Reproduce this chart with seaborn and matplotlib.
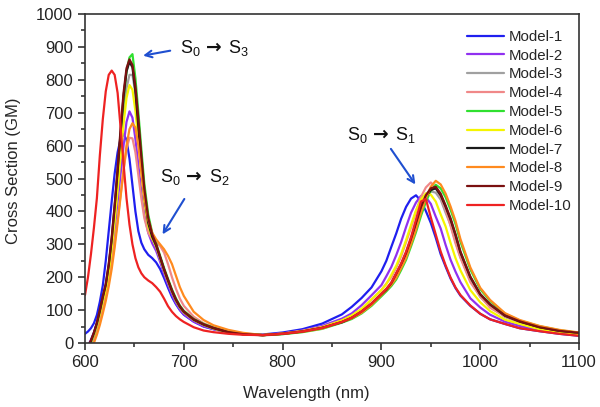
import pandas as pd
import seaborn as sns
from matplotlib import pyplot as plt
from matplotlib.ticker import MultipleLocator

# Wavelength grid (nm) shared by all models
wavelength = [600, 603, 606, 609, 612, 615, 618, 621, 624, 627, 630, 633, 636, 639, 642, 645, 648, 651, 654, 657, 660,
              664, 668, 672, 676, 680, 684, 688, 692, 696, 700, 710, 720, 730, 745, 760,
              780, 800, 820, 840, 860, 870, 880, 890,
              900, 905, 910, 915, 920, 925, 930, 935, 940, 945, 950, 955, 960, 965, 970, 975, 980,
              990, 1000, 1010, 1025, 1040, 1060, 1080, 1100]

# Cross section values (GM)
model_1 = [28, 35, 45, 60, 85, 125, 175, 250, 340, 430, 515, 580, 620, 635, 618, 560, 480, 400, 340, 305, 285,
           268, 258, 245, 225, 198, 168, 140, 118, 100, 86, 65, 50, 42, 34, 28,
           26, 32, 42, 59, 87, 110, 137, 169,
           218, 250, 292, 333, 378, 414, 439, 449, 432, 401, 365, 320, 270, 232, 196, 167, 144,
           113, 89, 72, 58, 45, 36, 28, 22]
model_2 = [-25, -8, 10, 32, 58, 90, 125, 160, 208, 270, 345, 430, 515, 600, 672, 704, 685, 620, 540, 460, 392,
           335, 303, 280, 247, 210, 177, 147, 121, 101, 87, 65, 51, 42, 32, 27,
           24, 29, 38, 52, 74, 90, 115, 145,
           176, 203, 231, 267, 307, 353, 396, 427, 447, 443, 423, 384, 348, 298, 253, 217, 185,
           136, 108, 86, 65, 52, 39, 32, 25]
model_3 = [-36, -20, 0, 22, 50, 85, 124, 162, 215, 288, 378, 480, 590, 695, 775, 815, 815, 760, 665, 560, 460,
           372, 325, 296, 260, 224, 190, 158, 131, 110, 95, 71, 56, 45, 33, 27,
           23, 27, 34, 45, 63, 76, 93, 119,
           149, 163, 182, 210, 238, 275, 317, 363, 408, 440, 461, 457, 436, 396, 359, 308, 261,
           191, 140, 112, 79, 63, 46, 36, 29]
model_4 = [-40, -25, -8, 12, 38, 70, 105, 140, 185, 240, 305, 375, 450, 525, 590, 624, 622, 580, 510, 440, 380,
           335, 315, 305, 295, 275, 240, 200, 165, 135, 113, 80, 60, 48, 35, 28,
           25, 29, 37, 49, 68, 83, 102, 132,
           161, 181, 200, 229, 264, 307, 351, 400, 444, 473, 488, 473, 444, 405, 356, 303, 259,
           185, 142, 107, 81, 63, 46, 37, 29]
model_5 = [-35, -18, 2, 25, 55, 92, 133, 172, 228, 305, 400, 508, 625, 740, 825, 868, 878, 805, 700, 590, 485,
           390, 335, 303, 265, 228, 195, 163, 136, 114, 98, 73, 58, 47, 34, 28,
           24, 27, 33, 43, 62, 73, 90, 113,
           142, 157, 173, 193, 222, 253, 294, 337, 386, 429, 463, 481, 470, 443, 405, 362, 308,
           224, 164, 128, 89, 68, 51, 39, 31]
model_6 = [-30, -14, 4, 26, 54, 88, 126, 163, 215, 285, 370, 465, 565, 665, 745, 784, 770, 705, 615, 520, 432,
           355, 318, 292, 257, 220, 187, 156, 129, 108, 93, 70, 55, 44, 32, 27,
           24, 28, 36, 48, 69, 84, 104, 133,
           161, 179, 207, 235, 271, 313, 359, 403, 435, 455, 451, 430, 391, 354, 304, 258, 221,
           161, 124, 97, 71, 58, 42, 34, 27]
model_7 = [-32, -14, 6, 30, 60, 97, 139, 177, 236, 315, 414, 522, 640, 750, 826, 855, 838, 765, 657, 545, 448,
           365, 323, 296, 260, 223, 190, 158, 131, 110, 95, 71, 56, 45, 33, 27,
           24, 28, 35, 46, 63, 76, 95, 119,
           147, 161, 180, 209, 238, 271, 314, 361, 409, 444, 465, 470, 449, 414, 375, 328, 275,
           200, 148, 117, 83, 65, 48, 37, 31]
model_8 = [-60, -42, -22, 0, 25, 55, 90, 128, 172, 225, 290, 365, 445, 525, 600, 650, 668, 655, 600, 520, 445,
           375, 335, 315, 300, 285, 265, 240, 205, 170, 143, 95, 70, 54, 40, 31,
           24, 28, 34, 44, 64, 75, 92, 116,
           146, 161, 177, 198, 228, 259, 301, 345, 396, 440, 475, 493, 482, 454, 415, 371, 316,
           230, 168, 131, 91, 70, 52, 40, 32]
model_9 = [-30, -12, 8, 32, 62, 100, 142, 180, 240, 320, 420, 530, 650, 760, 835, 862, 845, 780, 680, 570, 470,
           380, 330, 300, 262, 225, 192, 160, 133, 112, 96, 72, 57, 46, 33, 27,
           24, 28, 35, 46, 64, 77, 96, 120,
           149, 163, 182, 211, 240, 274, 317, 365, 413, 449, 470, 475, 454, 418, 379, 331, 278,
           202, 149, 118, 84, 66, 48, 37, 31]
model_10 = [146, 200, 270, 350, 440, 570, 680, 765, 815, 828, 815, 760, 655, 545, 440, 360, 300, 258, 230, 212, 200,
            190, 182, 170, 156, 135, 112, 95, 82, 72, 64, 48, 38, 33, 28, 25,
            24, 28, 35, 46, 64, 77, 96, 120,
            150, 165, 184, 212, 242, 278, 322, 375, 430, 438, 382, 330, 278, 236, 199, 169, 146,
            114, 89, 72, 58, 45, 36, 28, 22]

model_names = ["Model-1", "Model-2", "Model-3", "Model-4", "Model-5",
               "Model-6", "Model-7", "Model-8", "Model-9", "Model-10"]
model_colors = ["#1f1fef", "#9030f0", "#a0a0a0", "#f08888", "#30e030",
                "#f5f500", "#1a1a1a", "#ff8a1e", "#7a1010", "#ee2222"]
all_values = [model_1, model_2, model_3, model_4, model_5,
              model_6, model_7, model_8, model_9, model_10]

# transitions: label parts, text anchor, arrow tip, arrow tail
transitions = [("0", "3", (696, 880), (656, 872), (689, 890)),
               ("0", "2", (676, 489), (677, 323), (702, 445)),
               ("0", "1", (865, 617), (936, 475), (908, 597))]

frames = []
for name, values in zip(model_names, all_values):
    frames.append(pd.DataFrame({"Wavelength (nm)": wavelength,
                                "Cross Section (GM)": values,
                                "Model": name}))
spectra = pd.concat(frames, ignore_index=True)

sns.set_theme(style="ticks")
plt.rcParams["font.family"] = ["Liberation Sans", "DejaVu Sans"]
plt.rcParams["mathtext.fontset"] = "custom"
plt.rcParams["mathtext.rm"] = "Liberation Sans"

fig = plt.figure(figsize=(6, 4.07), dpi=100)
ax = fig.add_axes([0.1417, 0.1572, 0.8233, 0.8084])

sns.lineplot(data=spectra, x="Wavelength (nm)", y="Cross Section (GM)", hue="Model",
             palette=dict(zip(model_names, model_colors)), estimator=None,
             linewidth=1.6, ax=ax)

ax.set_xlim(600, 1100)
ax.set_ylim(0, 1000)
ax.xaxis.set_major_locator(MultipleLocator(100))
ax.xaxis.set_minor_locator(MultipleLocator(50))
ax.yaxis.set_major_locator(MultipleLocator(100))
ax.yaxis.set_minor_locator(MultipleLocator(50))
ax.tick_params(which="major", direction="out", length=5, width=1.1, labelsize=12, colors="#222222")
ax.tick_params(which="minor", direction="out", length=3, width=1.1)
for spine in ax.spines.values():
    spine.set_color("#333333")
    spine.set_linewidth(1.2)

ax.set_xlabel("Wavelength (nm)", fontsize=12)
ax.set_ylabel("Cross Section (GM)", fontsize=12)
ax.xaxis.set_label_coords(0.447, -0.13)
ax.yaxis.set_label_coords(-0.13, 0.523)

ax.legend(frameon=False, loc="upper left", bbox_to_anchor=(0.773, 0.952),
          borderaxespad=0, borderpad=0, handlelength=2.5, handletextpad=0.3,
          labelspacing=0.32, fontsize=10.8)

# Transition labels and arrows
arrow_kw = dict(arrowstyle="->", color="#1f4fd0", lw=1.5)
for low, high, pos, tip, tail in transitions:
    ax.text(pos[0], pos[1], "S$_{%s}$" % low, fontsize=13, color="#111111")
    ax.annotate("→", xy=pos, xytext=(18.5, 0.5), textcoords="offset points",
                family="DejaVu Sans", fontweight="bold", fontsize=13.5, color="#111111")
    ax.annotate("S$_{%s}$" % high, xy=pos, xytext=(35, 0), textcoords="offset points",
                fontsize=13, color="#111111")
    ax.annotate("", xy=tip, xytext=tail, arrowprops=arrow_kw)

fig.savefig("out.png", dpi=100)
